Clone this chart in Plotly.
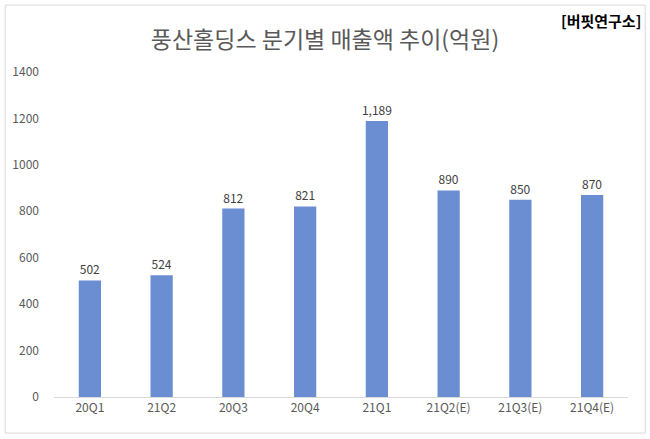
import plotly.graph_objs as go

quarters = ["20Q1", "21Q2", "20Q3", "20Q4", "21Q1", "21Q2(E)", "21Q3(E)", "21Q4(E)"]
sales = [502, 524, 812, 821, 1189, 890, 850, 870]
bar_labels = ["502", "524", "812", "821", "1,189", "890", "850", "870"]
y_ticks = [0, 200, 400, 600, 800, 1000, 1200, 1400]

font_name = "Noto Sans CJK KR"

trace = go.Bar(
    x=quarters,
    y=sales,
    text=bar_labels,
    textposition="outside",
    constraintext="none",
    textfont=dict(size=12, color="#404040", family=font_name),
    marker=dict(color="#6A8ED1", line=dict(width=0)),
    width=0.31,
    cliponaxis=False,
    hoverinfo="x+y",
)

layout = go.Layout(
    width=650,
    height=439,
    paper_bgcolor="white",
    plot_bgcolor="white",
    margin=dict(l=52, r=22, t=72, b=42),
    font=dict(family=font_name, color="#595959"),
    title=dict(
        text="풍산홀딩스 분기별 매출액 추이(억원)",
        x=0.5,
        xanchor="center",
        y=0.909,
        yanchor="middle",
        font=dict(size=23, color="#595959", family=font_name),
    ),
    xaxis=dict(
        showgrid=False,
        showline=True,
        linecolor="#D9D9D9",
        linewidth=1,
        ticks="",
        tickfont=dict(size=12, color="#595959"),
        fixedrange=True,
    ),
    yaxis=dict(
        range=[0, 1400],
        tickvals=y_ticks,
        showgrid=False,
        zeroline=False,
        showline=False,
        ticks="",
        ticklabelstandoff=14,
        tickfont=dict(size=12, color="#595959"),
        fixedrange=True,
    ),
    showlegend=False,
    bargap=0.69,
    annotations=[
        dict(
            text="<b>[버핏연구소]</b>",
            xref="paper",
            yref="paper",
            x=1.026,
            y=1.16,
            xanchor="right",
            yanchor="middle",
            showarrow=False,
            font=dict(size=15, color="black", family=font_name),
        )
    ],
    shapes=[
        dict(
            type="rect",
            xref="paper",
            yref="paper",
            x0=-0.085,
            x1=1.03,
            y0=-0.111,
            y1=1.206,
            line=dict(color="#D9D9D9", width=1),
        )
    ],
)

fig = go.Figure(data=[trace], layout=layout)
fig.write_html(
    "out.html",
    config={"displayModeBar": False},
    post_script="document.body.style.margin = '0';",
)
